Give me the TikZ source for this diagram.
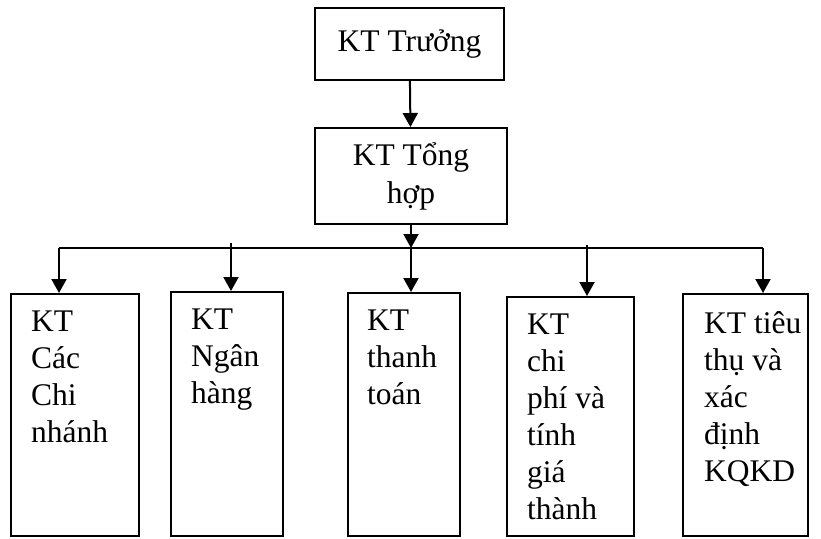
\documentclass[tikz,border=0pt]{standalone}
\usepackage{fontspec}
\setmainfont{Liberation Serif}
\usetikzlibrary{arrows.meta,positioning}

\begin{document}
\begin{tikzpicture}[x=1pt, y=-1pt,
      box/.style={draw, line width=2pt, inner sep=0pt},
      txt/.style={anchor=north west, inner sep=0pt, align=left,
                  font=\fontsize{31.5}{37}\selectfont},
      arr/.style={-{Triangle[width=15pt,length=14pt]}, line width=2pt},
      bus/.style={line width=2pt}
  ]
    \useasboundingbox (0,0) rectangle (821,538);
    % upper levels
    \node[box, minimum width=189pt, minimum height=72pt,
          font=\fontsize{31.5}{37}\selectfont] (tr) at (409.5,44) {KT Trưởng};
    \node[box, minimum width=192pt, minimum height=96pt, align=center,
          font=\fontsize{31.5}{38}\selectfont] (th) at (411,176) {KT Tổng\\ hợp};
    % lower level boxes
    \node[box, minimum width=128pt, minimum height=242pt] (cn) at (75,415) {};
    \node[box, minimum width=112pt, minimum height=244pt] (nh) at (227,414) {};
    \node[box, minimum width=112pt, minimum height=243pt] (tt) at (404,414.5) {};
    \node[box, minimum width=127pt, minimum height=239pt] (cp) at (570.5,416.5) {};
    \node[box, minimum width=125pt, minimum height=242pt] (kq) at (745.5,415) {};
    \node[txt] (cnt) at ([shift={(21pt,-18pt)}]cn.north west) {KT\\ Các\\ Chi\\ nhánh};
    \node[txt] (nht) at ([shift={(21pt,-18pt)}]nh.north west) {KT\\ Ngân\\ hàng};
    \node[txt] (ttt) at ([shift={(20pt,-18pt)}]tt.north west) {KT\\ thanh\\ toán};
    \node[txt] (cpt) at ([shift={(21pt,-18pt)}]cp.north west) {KT\\ chi\\ phí và\\ tính\\ giá\\ thành};
    \node[txt] (kqt) at ([shift={(22pt,-18pt)}]kq.north west) {KT tiêu\\ thụ và\\ xác\\ định\\ KQKD};
    % bus
    \coordinate (jcn) at (59,248);
    \coordinate (jnh) at (231,248);
    \coordinate (jtt) at (th.south |- jcn);
    \coordinate (jcp) at (587,248);
    \coordinate (jkq) at (763,248);
    \draw[bus] (jcn) -- (jkq);
    \draw[arr] (tr) -- (th);
    \draw[arr] (th) -- (jtt);
    \draw[arr] (jtt) -- (jtt |- tt.north);
    \draw[arr] (jcn) -- (jcn |- cn.north);
    \draw[arr] ([yshift=5pt]jnh) -- (jnh |- nh.north);
    \draw[arr] ([yshift=3pt]jcp) -- (jcp |- cp.north);
    \draw[arr] (jkq) -- (jkq |- kq.north);
  \end{tikzpicture}
\end{document}
